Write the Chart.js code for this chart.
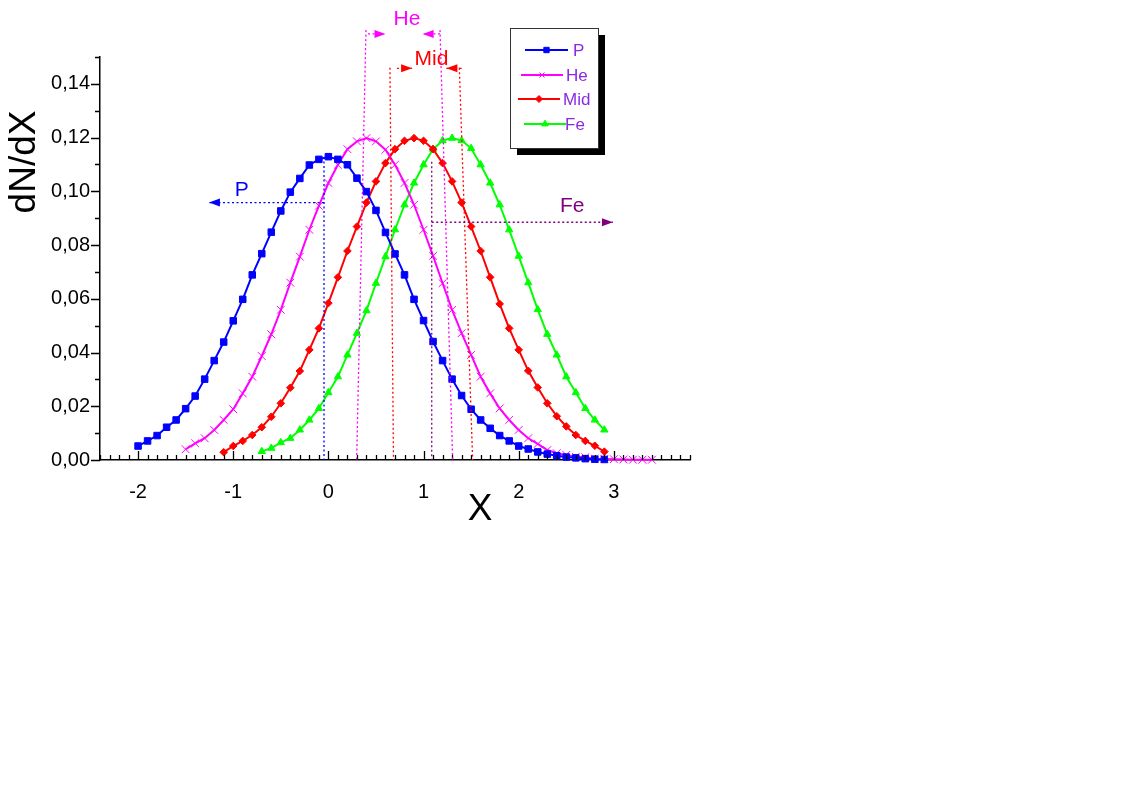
<!DOCTYPE html>
<html>
<head>
<meta charset="utf-8">
<script src="https://cdn.jsdelivr.net/npm/chart.js@4.4.1/dist/chart.umd.min.js"></script>
<style>
  html, body { margin: 0; padding: 0; background: #fff; }
  #wrap { width: 1132px; height: 789px; }
</style>
</head>
<body>
<div id="wrap"><canvas id="chart" width="1132" height="789"></canvas></div>
<script>
// --- data ---
const pX = [-2.0, -1.9, -1.8, -1.7, -1.6, -1.5, -1.4, -1.3, -1.2, -1.1, -1.0, -0.9, -0.8, -0.7, -0.6, -0.5, -0.4, -0.3, -0.2, -0.1,
  0.0, 0.1, 0.2, 0.3, 0.4, 0.5, 0.6, 0.7, 0.8, 0.9, 1.0, 1.1, 1.2, 1.3, 1.4, 1.5, 1.6, 1.7, 1.8, 1.9,
  2.0, 2.1, 2.2, 2.3, 2.4, 2.5, 2.6, 2.7, 2.8, 2.9];
const pY = [0.0052, 0.0071, 0.0091, 0.0122, 0.0149, 0.0191, 0.0238, 0.0301, 0.0370, 0.0439, 0.0518, 0.0598, 0.0689, 0.0768, 0.0848, 0.0927, 0.0997, 0.1048, 0.1098, 0.1119,
  0.1129, 0.1119, 0.1099, 0.1049, 0.0999, 0.0929, 0.0847, 0.0767, 0.0689, 0.0598, 0.0519, 0.0441, 0.0370, 0.0301, 0.0240, 0.0189, 0.0149, 0.0118, 0.0091, 0.0071,
  0.0052, 0.0041, 0.0030, 0.0022, 0.0016, 0.0011, 0.0008, 0.0005, 0.0003, 0.0002];

const heX = [-1.5, -1.4, -1.3, -1.2, -1.1, -1.0, -0.9, -0.8, -0.7, -0.6, -0.5, -0.4, -0.3, -0.2, -0.1,
  0.0, 0.1, 0.2, 0.3, 0.4, 0.5, 0.6, 0.7, 0.8, 0.9, 1.0, 1.1, 1.2, 1.3, 1.4, 1.5, 1.6, 1.7, 1.8, 1.9,
  2.0, 2.1, 2.2, 2.3, 2.4, 2.5, 2.6, 2.7, 2.8, 2.9, 3.0, 3.1, 3.2, 3.3, 3.4];
const heY = [0.0040, 0.0062, 0.0081, 0.0112, 0.0149, 0.0189, 0.0248, 0.0310, 0.0387, 0.0468, 0.0559, 0.0660, 0.0757, 0.0857, 0.0946,
  0.1031, 0.1099, 0.1157, 0.1186, 0.1198, 0.1186, 0.1155, 0.1099, 0.1031, 0.0950, 0.0857, 0.0760, 0.0658, 0.0559, 0.0472, 0.0391, 0.0310, 0.0248, 0.0192, 0.0149,
  0.0112, 0.0081, 0.0060, 0.0037, 0.0025, 0.0019, 0.0012, 0.0010, 0.0005, 0.0004, 0.0003, 0.0002, 0.0001, 0.0001, 0.0001];

const midX = [-1.1, -1.0, -0.9, -0.8, -0.7, -0.6, -0.5, -0.4, -0.3, -0.2, -0.1,
  0.0, 0.1, 0.2, 0.3, 0.4, 0.5, 0.6, 0.7, 0.8, 0.9, 1.0, 1.1, 1.2, 1.3, 1.4, 1.5, 1.6, 1.7, 1.8, 1.9,
  2.0, 2.1, 2.2, 2.3, 2.4, 2.5, 2.6, 2.7, 2.8, 2.9];
const midY = [0.0029, 0.0052, 0.0071, 0.0093, 0.0122, 0.0161, 0.0211, 0.0269, 0.0331, 0.0410, 0.0490,
  0.0584, 0.0680, 0.0778, 0.0869, 0.0958, 0.1037, 0.1105, 0.1157, 0.1188, 0.1198, 0.1188, 0.1157, 0.1105, 0.1037, 0.0958, 0.0869, 0.0778, 0.0680, 0.0581, 0.0490,
  0.0410, 0.0332, 0.0270, 0.0211, 0.0163, 0.0125, 0.0093, 0.0071, 0.0053, 0.0031];

const feX = [-0.7, -0.6, -0.5, -0.4, -0.3, -0.2, -0.1,
  0.0, 0.1, 0.2, 0.3, 0.4, 0.5, 0.6, 0.7, 0.8, 0.9, 1.0, 1.1, 1.2, 1.3, 1.4, 1.5, 1.6, 1.7, 1.8, 1.9,
  2.0, 2.1, 2.2, 2.3, 2.4, 2.5, 2.6, 2.7, 2.8, 2.9];
const feY = [0.0032, 0.0044, 0.0065, 0.0081, 0.0112, 0.0149, 0.0192,
  0.0251, 0.0310, 0.0391, 0.0472, 0.0556, 0.0658, 0.0757, 0.0857, 0.0950, 0.1031, 0.1099, 0.1157, 0.1189, 0.1198, 0.1189, 0.1160, 0.1099, 0.1031, 0.0950, 0.0857,
  0.0759, 0.0660, 0.0560, 0.0468, 0.0391, 0.0310, 0.0251, 0.0192, 0.0149, 0.0112];

const xTicks = [-2, -1, 0, 1, 2, 3];
const xTickLabels = ['-2', '-1', '0', '1', '2', '3'];
const yTicks = [0, 0.02, 0.04, 0.06, 0.08, 0.10, 0.12, 0.14];
const yTickLabels = ['0,00', '0,02', '0,04', '0,06', '0,08', '0,10', '0,12', '0,14'];

// guide lines in data units: [x1, y1, x2, y2, colour]
const guideLines = [
  [-0.046, 0.1128, -0.046, 0, '#0000ff'],
  [0.395, 0.160, 0.297, 0, '#ff00ff'],
  [1.173, 0.160, 1.306, 0, '#ff00ff'],
  [0.647, 0.146, 0.684, 0, '#ff0000'],
  [1.376, 0.146, 1.516, 0, '#ff0000'],
  [1.086, 0.111, 1.086, 0, '#800080']
];
// dotted arrows, head at (x2, y2)
const guideArrows = [
  [-0.046, 0.0958, -1.255, 0.0958, '#0000ff'],
  [0.416, 0.1586, 0.600, 0.1586, '#ff00ff'],
  [1.173, 0.1586, 0.990, 0.1586, '#ff00ff'],
  [0.720, 0.1458, 0.880, 0.1458, '#ff0000'],
  [1.400, 0.1458, 1.240, 0.1458, '#ff0000'],
  [1.086, 0.0885, 2.990, 0.0885, '#800080']
];
const guideLabels = [
  ['P', -0.911, 0.1006, '#0000ff'],
  ['He', 0.826, 0.1642, '#ff00ff'],
  ['Mid', 1.083, 0.1490, '#ff0000'],
  ['Fe', 2.563, 0.0946, '#800080']
];

const FONT = '"Liberation Sans", Arial, Helvetica, sans-serif';

function series(label, xs, ys, color, style, radius, bw) {
  return {
    label: label,
    data: xs.map((v, i) => ({ x: v, y: ys[i] })),
    borderColor: color,
    backgroundColor: color,
    borderWidth: 2,
    pointStyle: style,
    pointRadius: radius,
    pointBorderWidth: bw,
    pointBackgroundColor: color,
    pointBorderColor: color,
    tension: 0,
    clip: false
  };
}

const datasets = [
  series('P', pX, pY, '#0000ff', 'rect', 4.6, 1),
  series('He', heX, heY, '#ff00ff', 'crossRot', 5.5, 1),
  series('Mid', midX, midY, '#ff0000', 'rectRot', 3.8, 1),
  series('Fe', feX, feY, '#00ff00', 'triangle', 4.2, 1)
];

function dotted(ctx, x1, y1, x2, y2, color) {
  ctx.save();
  ctx.strokeStyle = color;
  ctx.lineWidth = 1.3;
  ctx.setLineDash([2, 2.5]);
  ctx.beginPath();
  ctx.moveTo(x1, y1);
  ctx.lineTo(x2, y2);
  ctx.stroke();
  ctx.restore();
}

function head(ctx, x1, y1, x2, y2, color) {
  const a = Math.atan2(y2 - y1, x2 - x1);
  const L = 11, W = 4;
  ctx.save();
  ctx.fillStyle = color;
  ctx.beginPath();
  ctx.moveTo(x2, y2);
  ctx.lineTo(x2 - L * Math.cos(a) + W * Math.sin(a), y2 - L * Math.sin(a) - W * Math.cos(a));
  ctx.lineTo(x2 - L * Math.cos(a) - W * Math.sin(a), y2 - L * Math.sin(a) + W * Math.cos(a));
  ctx.closePath();
  ctx.fill();
  ctx.restore();
}

const decor = {
  id: 'decor',
  afterDraw(chart) {
    const ctx = chart.ctx;
    const x = chart.scales.x, y = chart.scales.y, ca = chart.chartArea;
    ctx.save();

    // tick marks: x inward, y outward, with minor ticks
    ctx.strokeStyle = '#000';
    ctx.lineWidth = 1.3;
    ctx.beginPath();
    for (let i = -24; i <= 38; i++) {
      const px = Math.round(x.getPixelForValue(i / 10)) + 0.5;
      const len = i % 10 === 0 ? 9 : 5;
      ctx.moveTo(px, ca.bottom);
      ctx.lineTo(px, ca.bottom - len);
    }
    for (let j = 0; j <= 15; j++) {
      const py = Math.round(y.getPixelForValue(j / 100)) + 0.5;
      const len = j % 2 === 0 ? 9 : 5;
      ctx.moveTo(ca.left, py);
      ctx.lineTo(ca.left - len, py);
    }
    ctx.stroke();

    // guide lines and arrows
    guideLines.forEach(g => {
      dotted(ctx, x.getPixelForValue(g[0]), y.getPixelForValue(g[1]), x.getPixelForValue(g[2]), y.getPixelForValue(g[3]), g[4]);
    });
    guideArrows.forEach(g => {
      const x1 = x.getPixelForValue(g[0]), y1 = y.getPixelForValue(g[1]);
      const x2 = x.getPixelForValue(g[2]), y2 = y.getPixelForValue(g[3]);
      dotted(ctx, x1, y1, x2, y2, g[4]);
      head(ctx, x1, y1, x2, y2, g[4]);
    });
    ctx.font = '21px ' + FONT;
    ctx.textAlign = 'center';
    ctx.textBaseline = 'middle';
    guideLabels.forEach(g => {
      ctx.fillStyle = g[3];
      ctx.fillText(g[0], x.getPixelForValue(g[1]), y.getPixelForValue(g[2]));
    });

    // axis titles
    ctx.fillStyle = '#000';
    ctx.font = '37px ' + FONT;
    ctx.fillText('X', 480, 510);
    ctx.save();
    ctx.translate(25, 162);
    ctx.rotate(-Math.PI / 2);
    ctx.fillText('dN/dX', 0, 0);
    ctx.restore();

    // legend box with shadow
    ctx.fillStyle = '#000';
    ctx.fillRect(517, 35, 88, 120);
    ctx.fillStyle = '#fff';
    ctx.fillRect(510, 28, 88, 120);
    ctx.strokeStyle = '#333';
    ctx.lineWidth = 1;
    ctx.strokeRect(510.5, 28.5, 88, 120);
    const rows = [50, 75, 99, 124];
    const lines = [[525, 568], [521, 563], [518, 560], [524, 566]];
    const textX = [573, 566, 563, 565];
    const legendRadius = [3.8, 3.5, 3.5, 3.8];
    ctx.font = '17px ' + FONT;
    ctx.textAlign = 'left';
    chart.data.datasets.forEach((ds, k) => {
      const ly = rows[k];
      ctx.strokeStyle = ds.borderColor;
      ctx.fillStyle = ds.borderColor;
      ctx.lineWidth = 2;
      ctx.beginPath();
      ctx.moveTo(lines[k][0], ly);
      ctx.lineTo(lines[k][1], ly);
      ctx.stroke();
      ctx.lineWidth = 1;
      Chart.helpers.drawPoint(ctx, { pointStyle: ds.pointStyle, radius: legendRadius[k], borderWidth: 1, rotation: 0 },
        (lines[k][0] + lines[k][1]) / 2, ly);
      ctx.fillStyle = '#8a2be2';
      ctx.fillText(ds.label, textX[k], ly + 1);
    });
    ctx.restore();
  }
};

new Chart(document.getElementById('chart'), {
  type: 'line',
  data: { datasets: datasets },
  plugins: [decor],
  options: {
    responsive: false,
    animation: false,
    devicePixelRatio: 1,
    layout: { padding: { top: 57, right: 442, left: 0, bottom: 0 } },
    plugins: { legend: { display: false }, tooltip: { enabled: false } },
    scales: {
      x: {
        type: 'linear',
        min: -2.4,
        max: 3.8,
        afterBuildTicks: s => { s.ticks = xTicks.map(v => ({ value: v })); },
        afterFit: s => { s.height = 329; },
        grid: { display: false, drawTicks: false },
        border: { display: true, color: '#000', width: 1.5 },
        ticks: {
          color: '#000',
          font: { family: FONT, size: 20 },
          padding: 20,
          maxRotation: 0,
          callback: (v, i) => xTickLabels[i]
        }
      },
      y: {
        type: 'linear',
        min: 0,
        max: 0.15,
        afterBuildTicks: s => { s.ticks = yTicks.map(v => ({ value: v })); },
        afterFit: s => { s.width = 100; },
        grid: { display: false, drawTicks: false },
        border: { display: true, color: '#000', width: 1.5 },
        ticks: {
          color: '#000',
          font: { family: FONT, size: 20 },
          padding: 10,
          callback: (v, i) => yTickLabels[i]
        }
      }
    }
  }
});
</script>
</body>
</html>
